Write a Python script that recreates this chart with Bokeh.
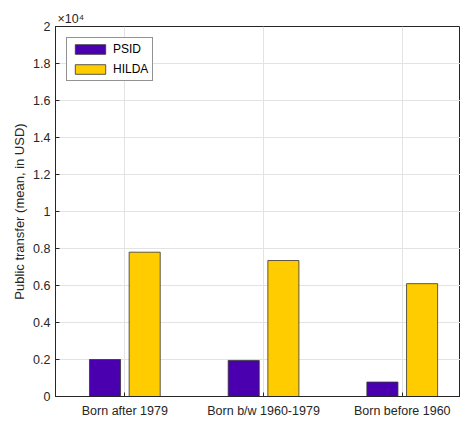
from bokeh.plotting import figure
from bokeh.models import FixedTicker, Range1d, Legend, LegendItem, ColumnDataSource
from bokeh.embed import file_html
from bokeh.resources import INLINE

categories = ["Born after 1979", "Born b/w 1960-1979", "Born before 1960"]
series_names = ["PSID", "HILDA"]
psid = [2000, 1950, 780]
hilda = [7800, 7350, 6100]
y_ticks = [0, 2000, 4000, 6000, 8000, 10000, 12000, 14000, 16000, 18000, 20000]
y_tick_labels = ["0", "0.2", "0.4", "0.6", "0.8", "1", "1.2", "1.4", "1.6", "1.8", "2"]
colors = ["#4B00B0", "#FFCC00"]

FONT = "Liberation Sans"
AX = "#262626"

p = figure(width=460, height=423, output_backend="svg", toolbar_location=None,
           x_range=Range1d(0.5, 3.42), y_range=Range1d(0, 20000),
           min_border_left=55, min_border_right=0, min_border_top=26, min_border_bottom=27)
p.background_fill_color = "white"
p.border_fill_color = "white"
p.outline_line_color = AX
p.outline_line_width = 1

p.title.text = "\u00d710\u2074"
p.title.align = "left"
p.title.offset = 2
p.title.standoff = 2
p.title.text_font = FONT
p.title.text_font_size = "12.5px"
p.title.text_font_style = "normal"
p.title.text_color = AX

xs = [i + 1 for i in range(len(categories))]
offset = 0.143
bw = 0.224
src1 = ColumnDataSource(dict(x=[x - offset for x in xs], top=psid))
src2 = ColumnDataSource(dict(x=[x + offset for x in xs], top=hilda))
r1 = p.vbar(x="x", top="top", width=bw, source=src1, fill_color=colors[0], line_color="#333333", line_width=0.8)
r2 = p.vbar(x="x", top="top", width=bw, source=src2, fill_color=colors[1], line_color="#333333", line_width=0.8)

# axes
p.xaxis.ticker = FixedTicker(ticks=xs)
p.xaxis.major_label_overrides = {x: c for x, c in zip(xs, categories)}
p.yaxis.ticker = FixedTicker(ticks=y_ticks)
p.yaxis.major_label_overrides = {t: l for t, l in zip(y_ticks, y_tick_labels)}
for ax in (p.xaxis[0], p.yaxis[0]):
    ax.axis_line_color = AX
    ax.major_tick_line_color = AX
    ax.major_tick_in = 4
    ax.major_tick_out = 0
    ax.minor_tick_line_color = None
    ax.major_label_text_font = FONT
    ax.major_label_text_font_size = "12.5px"
    ax.major_label_text_color = AX
p.xaxis.major_label_standoff = 7
p.yaxis.major_label_standoff = 5
p.yaxis.axis_label = "Public transfer (mean, in USD)"
p.yaxis.axis_label_text_font = FONT
p.yaxis.axis_label_text_font_size = "13px"
p.yaxis.axis_label_text_font_style = "normal"
p.yaxis.axis_label_text_color = AX
p.yaxis.axis_label_standoff = 3

p.xgrid.ticker = FixedTicker(ticks=xs)
p.ygrid.ticker = FixedTicker(ticks=y_ticks)
p.grid.grid_line_color = "#e3e3e3"
p.grid.grid_line_width = 1

legend = Legend(items=[LegendItem(label=series_names[0], renderers=[r1]),
                       LegendItem(label=series_names[1], renderers=[r2])],
                location="top_left", margin=11, padding=4, spacing=6,
                glyph_width=38, glyph_height=12, label_height=12, label_standoff=4,
                label_text_font=FONT, label_text_font_size="12px", label_text_color="#000000",
                border_line_color=AX, border_line_width=1, background_fill_alpha=1)
p.add_layout(legend)

open("out.html", "w").write(file_html(p, INLINE))
